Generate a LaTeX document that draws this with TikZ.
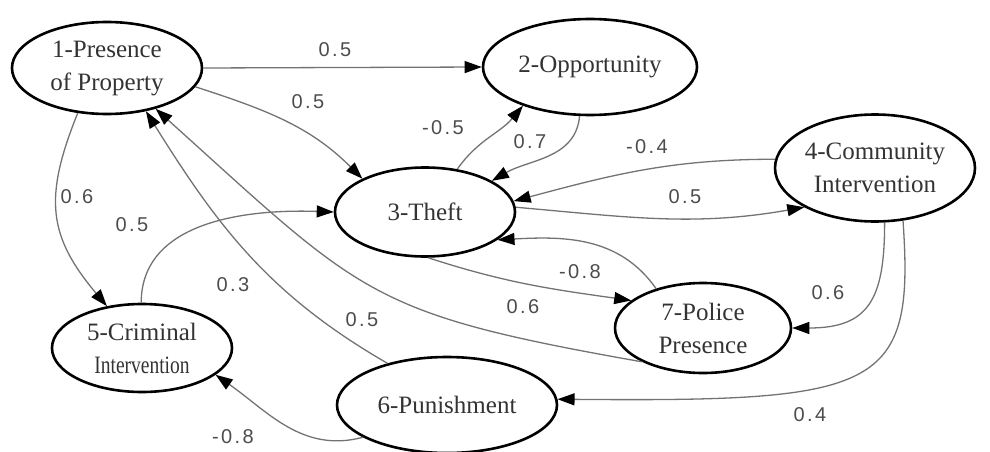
\documentclass[tikz,border=0pt]{standalone}
\usepackage{fontspec}
\setmainfont{Liberation Serif}
\newfontfamily\weightfont[LetterSpace=12]{Liberation Sans}
\usetikzlibrary{shapes.geometric,arrows.meta}
\begin{document}
\begin{tikzpicture}[x=1pt,y=1pt,
  concept/.style={ellipse, draw=black, line width=2.6pt, inner sep=0pt,
    align=center, text=black!80, font=\fontsize{25}{33}\selectfont},
  link/.style={draw=black!55, line width=1.3pt,
    -{Triangle[length=17pt,width=12pt,color=black]}},
  weight/.style={text=black!70, font=\weightfont\fontsize{20}{20}\selectfont}
]
\useasboundingbox (0,0) rectangle (990,451);

% concepts of the cognitive map
\node[concept, minimum width=190, minimum height=92] (n1) at (107,383) {1-Presence\\of Property};
\node[concept, minimum width=214, minimum height=96] (n2) at (590,384) {2-Opportunity};
\node[concept, minimum width=180, minimum height=89] (n3) at (425,239) {3-Theft};
\node[concept, minimum width=200, minimum height=107] (n4) at (875,283) {4-Community\\Intervention};
\node[concept, minimum width=180, minimum height=88] (n5) at (142,103) {5-Criminal\\\scalebox{0.78}[1]{Intervention}};
\node[concept, minimum width=220, minimum height=96] (n6) at (447,46) {6-Punishment};
\node[concept, minimum width=176, minimum height=90] (n7) at (703,123) {7-Police\\Presence};

% weighted causal links
\draw[link] (n1.east) -- (n2.west);
\draw[link] (n1.-12) to[out=-18,in=135] (n3.152);
\draw[link] (n1.-123) to[out=-112,in=130,looseness=1.2] (n5.130);
\draw[link] (n5.91) to[out=90,in=178] (n3.180);
\draw[link] (n6.145) to[out=150,in=-58] (n1.-48);
\draw[link] (n7.-151) to[out=170,in=-42,looseness=1.3] (n1.-40);
\draw[link] (n3.-86) to[out=-18,in=172] (n7.159);
\draw[link] (n7.140) to[out=125,in=3] (n3.-21);
\draw[link] (n3.53) to[out=55,in=-130] (n2.-150);
\draw[link] (n2.-102) to[out=-95,in=30] (n3.25);
\draw[link] (n4.175) to[out=180,in=15] (n3.7);
\draw[link] (n3.3) to[out=-5,in=-170] (n4.-151);
\draw[link] (n4.-80) to[out=-90,in=0,looseness=1.4] (n7.0);
\draw[link] (n4.-62) .. controls (915,61) and (880,49) .. (n6.3);
\draw[link] (n6.-159) to[out=195,in=-35] (n5.-20);

% link weights
\node[weight] (w12) at (335,401) {0.5};
\node[weight] (w13) at (308,349) {0.5};
\node[weight] (w32) at (443,323) {-0.5};
\node[weight] (w15) at (77,254) {0.6};
\node[weight] (w53) at (132,226) {0.5};
\node[weight] (w61) at (233,166) {0.3};
\node[weight] (w71) at (362,131) {0.5};
\node[weight] (w65) at (233,14) {-0.8};
\node[weight] (w23) at (530,309) {0.7};
\node[weight] (w43) at (647,304) {-0.4};
\node[weight] (w34) at (685,254) {0.5};
\node[weight] (w73) at (580,179) {-0.8};
\node[weight] (w37) at (523,144) {0.6};
\node[weight] (w47) at (828,158) {0.6};
\node[weight] (w46) at (810,36) {0.4};
\end{tikzpicture}
\end{document}
